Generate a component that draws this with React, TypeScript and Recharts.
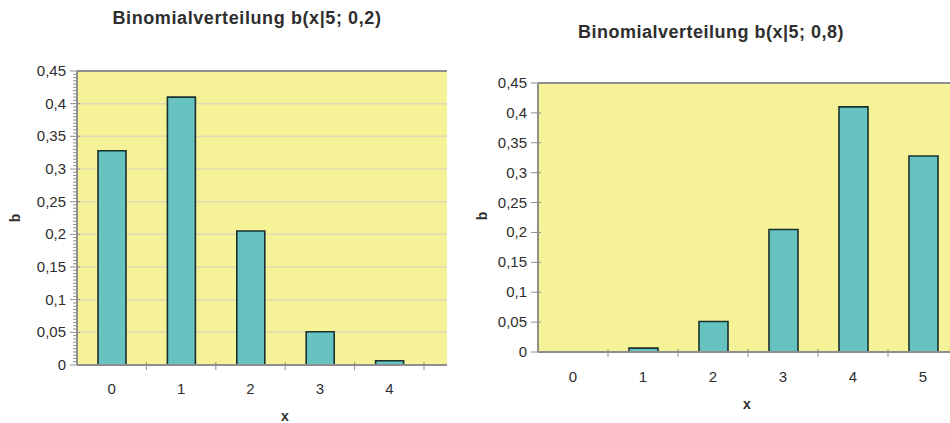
import { Bar, BarChart, CartesianGrid, XAxis, YAxis } from 'recharts'

// b(x|5; 0,2) and b(x|5; 0,8)
const xLeft = ['0', '1', '2', '3', '4']
const bLeft = [0.328, 0.41, 0.205, 0.051, 0.0064]
const xRight = ['0', '1', '2', '3', '4', '5']
const bRight = [0, 0.0064, 0.051, 0.205, 0.41, 0.328]

const yTicks = [0, 0.05, 0.1, 0.15, 0.2, 0.25, 0.3, 0.35, 0.4, 0.45]
const yTickLabels = ['0', '0,05', '0,1', '0,15', '0,2', '0,25', '0,3', '0,35', '0,4', '0,45']
// small ticks every 0,005 on the left chart
const yMinorTicks = Array.from({ length: 91 }, (_, i) => Math.round(i * 5) / 1000)

const leftData = xLeft.map((x, i) => ({ x, b: bLeft[i] }))
const rightData = xRight.map((x, i) => ({ x, b: bRight[i] }))

const FONT = "'Liberation Sans', Arial, sans-serif"
const TEXT = '#2e2e2e'
const AXIS = '#8e8e8e'
const PLOT_BG = '#f6f298'
const BAR_FILL = '#66c3c0'
const BAR_STROKE = '#1a3030'

const labelFor = (v: number) => {
  const i = yTicks.findIndex((t) => Math.abs(t - v) < 1e-6)
  return i >= 0 ? yTickLabels[i] : null
}

function YTick(props: any) {
  const { x, y, payload, minor } = props
  const label = labelFor(payload.value)
  if (label === null) {
    return minor ? <line x1={x - 4} x2={x} y1={y} y2={y} stroke={AXIS} strokeWidth={1} /> : null
  }
  return (
    <g>
      <line x1={x - 7} x2={x + 3} y1={y} y2={y} stroke={AXIS} strokeWidth={1} />
      <text x={x - 11} y={y + 5} textAnchor='end' fontSize={15} fill={TEXT} fontFamily={FONT}>
        {label}
      </text>
    </g>
  )
}

function XTick(props: any) {
  const { x, y, payload, band, labelDy } = props
  return (
    <g>
      <line x1={x + band / 2} x2={x + band / 2} y1={y - 3} y2={y + 5} stroke={AXIS} strokeWidth={1} />
      <text x={x} y={y + labelDy} textAnchor='middle' fontSize={15} fill={TEXT} fontFamily={FONT}>
        {payload.value}
      </text>
    </g>
  )
}

function LeftChart() {
  return (
    <BarChart
      width={475}
      height={423}
      data={leftData}
      margin={{ top: 71, right: 28, bottom: 28, left: 0 }}
      barSize={28}
    >
      <CartesianGrid
        fill={PLOT_BG}
        fillOpacity={1}
        vertical={false}
        horizontalValues={yTicks}
        stroke='#dedbb4'
        strokeWidth={1.5}
      />
      <CartesianGrid vertical={false} horizontalValues={[0.45]} stroke={AXIS} strokeWidth={2} />
      <XAxis
        dataKey='x'
        height={30}
        padding={{ left: 0, right: 23 }}
        tickSize={0}
        tickMargin={0}
        tickLine={false}
        axisLine={{ stroke: AXIS, strokeWidth: 2 }}
        tick={<XTick band={347 / 5} labelDy={29} />}
      />
      <YAxis
        width={77}
        domain={[0, 0.45]}
        ticks={yMinorTicks}
        interval={0}
        tickSize={0}
        tickMargin={0}
        tickLine={false}
        axisLine={{ stroke: AXIS, strokeWidth: 2 }}
        tick={<YTick minor />}
      />
      <Bar dataKey='b' fill={BAR_FILL} stroke={BAR_STROKE} strokeWidth={1.6} isAnimationActive={false} />
    </BarChart>
  )
}

function RightChart() {
  return (
    <BarChart
      width={500}
      height={423}
      data={rightData}
      margin={{ top: 83, right: 17, bottom: 41, left: 0 }}
      barSize={29}
    >
      <CartesianGrid fill={PLOT_BG} fillOpacity={1} horizontal={false} vertical={false} />
      <CartesianGrid vertical={false} horizontalValues={[0.45]} stroke={AXIS} strokeWidth={2} />
      <XAxis
        dataKey='x'
        height={30}
        tickSize={0}
        tickMargin={0}
        tickLine={false}
        axisLine={{ stroke: AXIS, strokeWidth: 2 }}
        tick={<XTick band={70} labelDy={30} />}
      />
      <YAxis
        width={63}
        domain={[0, 0.45]}
        ticks={yTicks}
        interval={0}
        tickSize={0}
        tickMargin={0}
        tickLine={false}
        axisLine={{ stroke: AXIS, strokeWidth: 2 }}
        tick={<YTick />}
      />
      <Bar dataKey='b' fill={BAR_FILL} stroke={BAR_STROKE} strokeWidth={1.6} isAnimationActive={false} />
    </BarChart>
  )
}

export default function App() {
  return (
    <div
      style={{
        position: 'absolute',
        left: 0,
        top: 0,
        width: 950,
        height: 423,
        overflow: 'hidden',
        background: '#fff',
        fontFamily: FONT,
      }}
    >
      <div style={{ position: 'absolute', left: 0, top: 0 }}>
        <LeftChart />
      </div>
      <div style={{ position: 'absolute', left: 475, top: 0 }}>
        <RightChart />
      </div>
      <svg width={950} height={423} style={{ position: 'absolute', left: 0, top: 0, pointerEvents: 'none' }}>
        <g fontFamily={FONT} fill={TEXT} fontWeight='bold'>
          <text x={247} y={24} textAnchor='middle' fontSize={18} letterSpacing={0.6}>
            Binomialverteilung b(x|5; 0,2)
          </text>
          <text x={711} y={38} textAnchor='middle' fontSize={18} letterSpacing={0.5}>
            Binomialverteilung b(x|5; 0,8)
          </text>
          <text x={285} y={421} textAnchor='middle' fontSize={14}>
            x
          </text>
          <text x={747} y={409} textAnchor='middle' fontSize={14}>
            x
          </text>
          <text transform='translate(20 218) rotate(-90)' textAnchor='middle' fontSize={14}>
            b
          </text>
          <text transform='translate(487 216) rotate(-90)' textAnchor='middle' fontSize={14}>
            b
          </text>
        </g>
      </svg>
    </div>
  )
}
